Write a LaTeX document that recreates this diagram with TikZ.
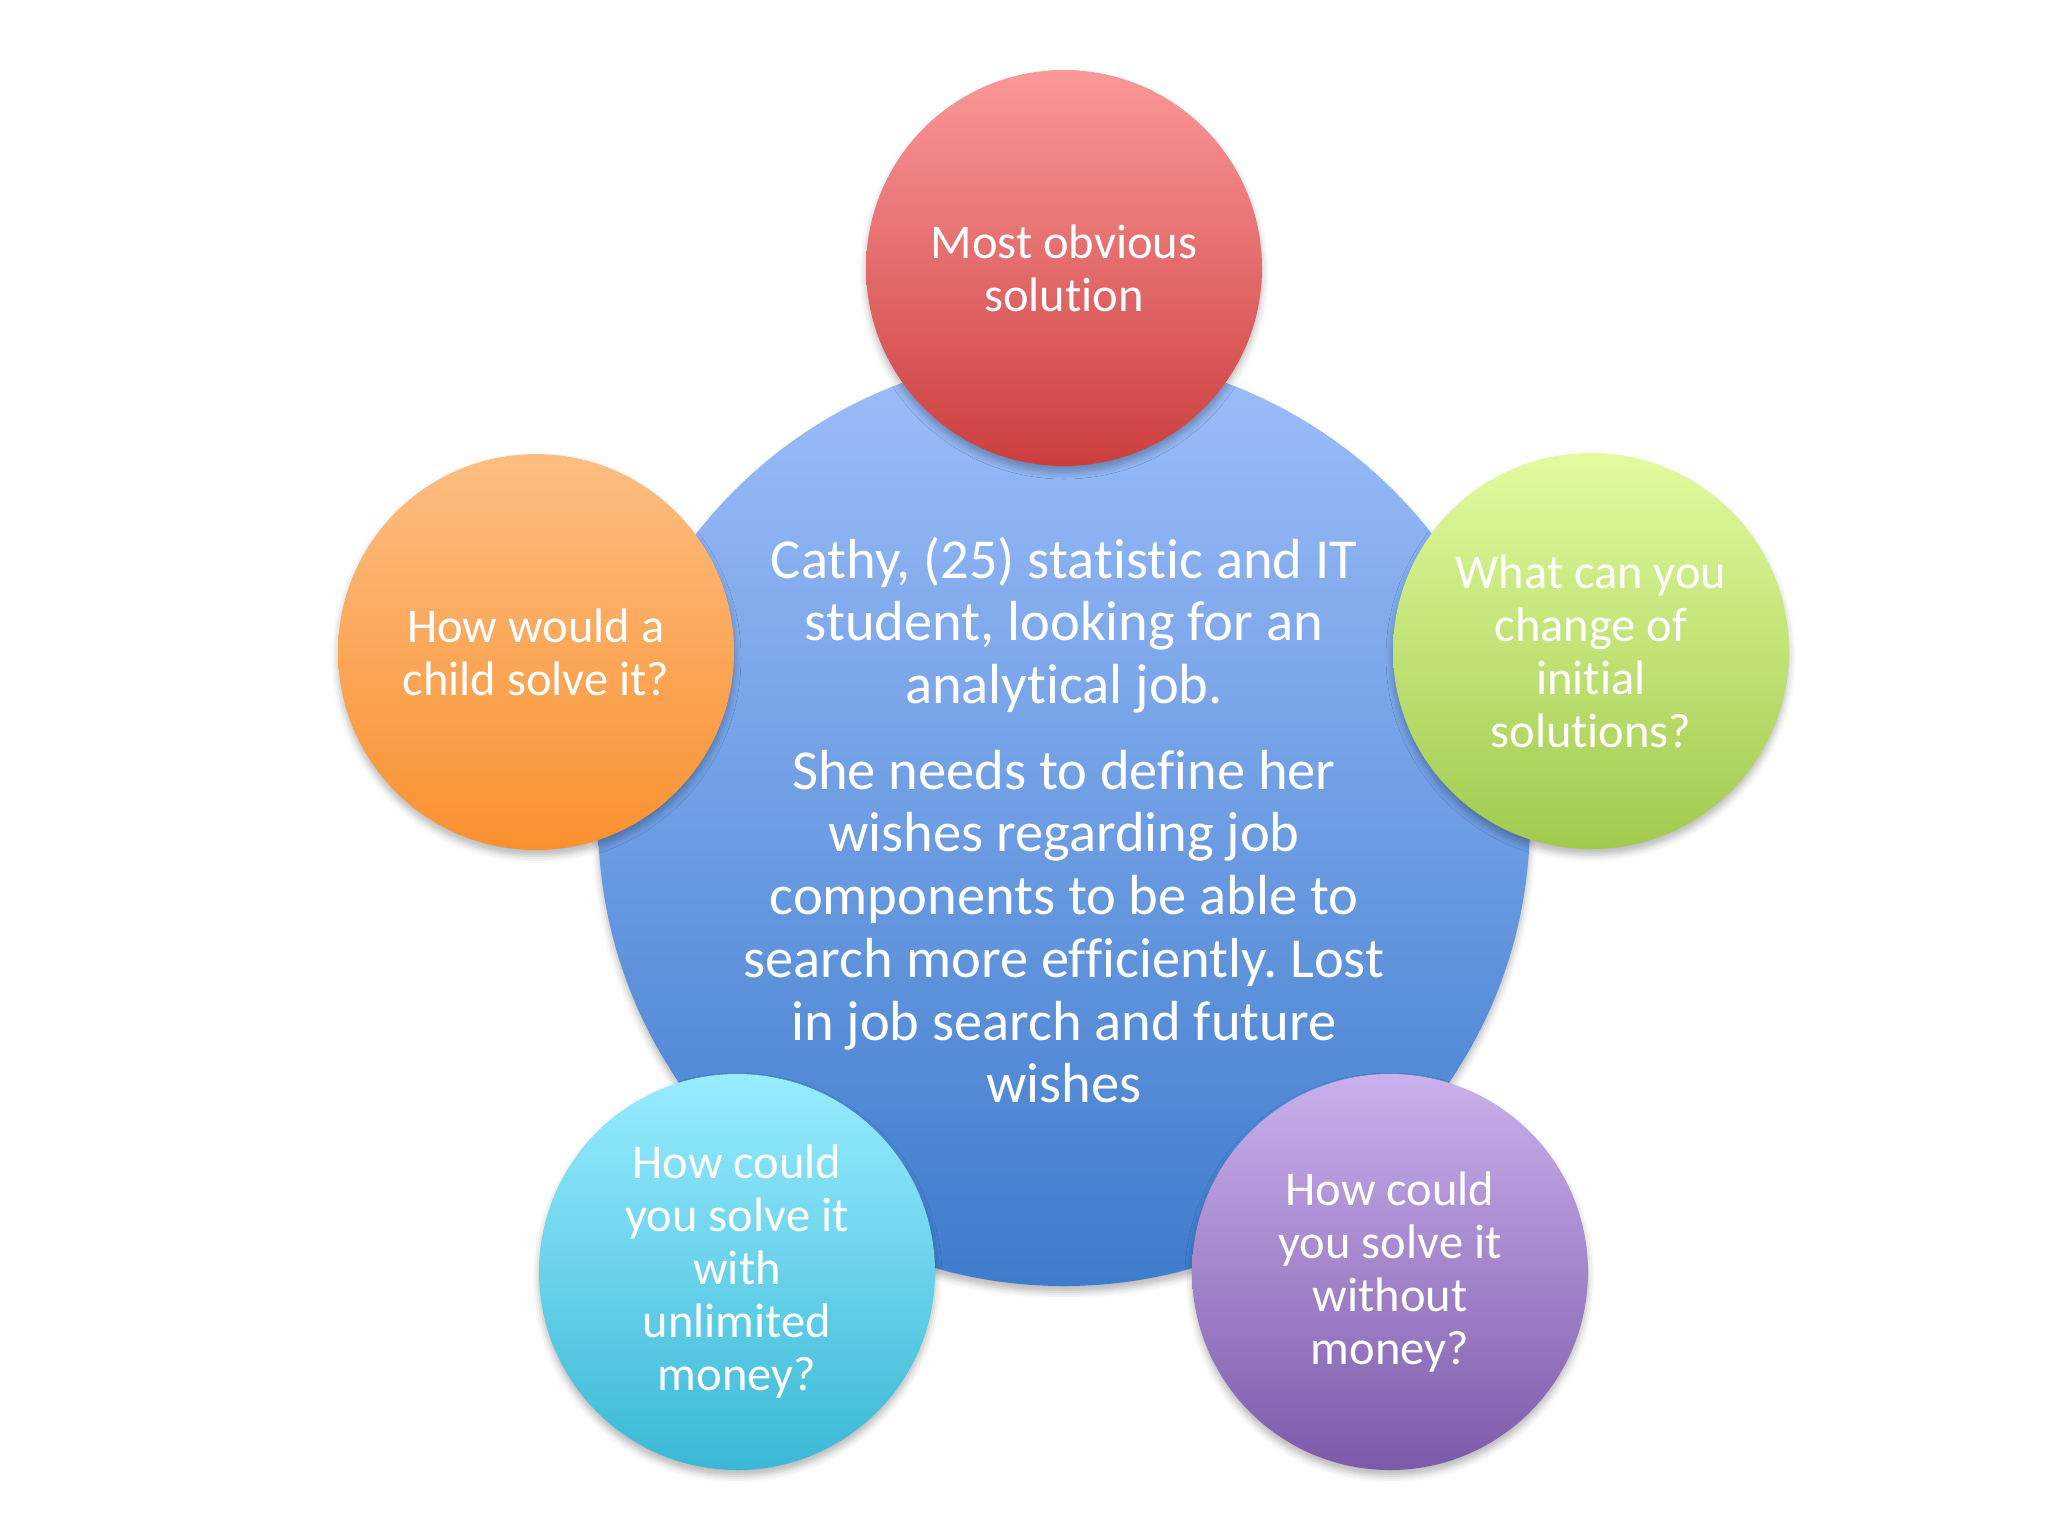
\documentclass[tikz,border=0pt]{standalone}
\usepackage{fontspec}
\setmainfont{Carlito}[Ligatures={NoCommon}]
\frenchspacing
\usetikzlibrary{shadows.blur}
\definecolor{hubtop}{RGB}{157,190,250}
\definecolor{hubbot}{RGB}{62,124,204}
\definecolor{redtop}{RGB}{251,152,152}
\definecolor{redbot}{RGB}{204,62,62}
\definecolor{ortop}{RGB}{252,190,130}
\definecolor{orbot}{RGB}{250,145,48}
\definecolor{grtop}{RGB}{226,251,158}
\definecolor{grbot}{RGB}{160,202,78}
\definecolor{cytop}{RGB}{152,236,255}
\definecolor{cybot}{RGB}{58,184,214}
\definecolor{putop}{RGB}{202,176,236}
\definecolor{pubot}{RGB}{124,90,170}
\begin{document}
\begin{tikzpicture}[x=1pt,y=-1pt,
  shade/.style={blur shadow={shadow xshift=0pt, shadow yshift=-6pt, shadow blur radius=7pt, shadow opacity=28}},
  hub/.style={circle, minimum size=932pt, inner sep=0pt, text=white, align=center,
    font=\fontsize{56.5}{62.7}\selectfont, shading=axis, top color=hubtop, bottom color=hubbot, shade},
  bubble/.style={circle, minimum size=396pt, inner sep=0pt, text=white, align=center,
    font=\fontsize{48.5}{53}\selectfont, shading=axis, shade}]
\useasboundingbox (0,0) rectangle (2048,1536);
\node[hub] (hub) at (1064,820) {Cathy, (25) statistic and IT\\ student, looking for an\\ analytical job.\\[23pt] She needs to define her\\ wishes regarding job\\ components to be able to\\ search more efficiently. Lost\\ in job search and future\\ wishes};
\node[bubble, top color=redtop, bottom color=redbot] (top) at (1064,268) {Most obvious\\ solution};
\node[bubble, top color=ortop, bottom color=orbot] (left) at (536,652) {How would a\\ child solve it?};
\node[bubble, top color=grtop, bottom color=grbot] (right) at (1591,651) {What can you\\ change of\\ initial\\ solutions?};
\node[bubble, top color=cytop, bottom color=cybot] (bl) at (737,1272) {How could\\ you solve it\\ with\\ unlimited\\ money?};
\node[bubble, top color=putop, bottom color=pubot] (br) at (1390,1272) {How could\\ you solve it\\ without\\ money?};
\end{tikzpicture}
\end{document}
